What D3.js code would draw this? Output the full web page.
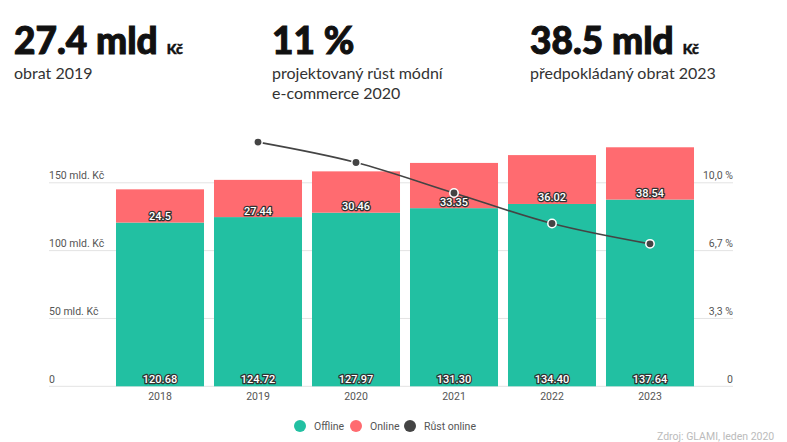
<!DOCTYPE html>
<html><head><meta charset="utf-8">
<script src="https://cdn.jsdelivr.net/npm/d3@7"></script>
<style>
body{margin:0;background:#fff;}
svg{display:block;font-family:Roboto,sans-serif;}
</style></head>
<body><svg id="c" width="787" height="442"></svg>
<script>
const years = ["2018","2019","2020","2021","2022","2023"];
const offline = [120.68,124.72,127.97,131.30,134.40,137.64];
const online = [24.5,27.44,30.46,33.35,36.02,38.54];
const offlineLabels = ["120.68","124.72","127.97","131.30","134.40","137.64"];
const onlineLabels = ["24.5","27.44","30.46","33.35","36.02","38.54"];
const growth = [null,12,11,9.5,8,7];
const leftTicks = [0,50,100,150];
const leftTickLabels = ["0","50 mld. Kč","100 mld. Kč","150 mld. Kč"];
const rightTicks = [0,10/3,20/3,10];
const rightTickLabels = ["0","3,3 %","6,7 %","10,0 %"];
const legendItems = ["Offline","Online","Růst online"];
const colors = {Offline:"#22c0a2", Online:"#ff6b70", "Růst online":"#444444"};

const svg = d3.select("#c");
const gridX0 = 49, gridX1 = 733;
const x = d3.scaleBand().domain(years).range([111,699]).paddingInner(0.102).paddingOuter(0.051);
const y = d3.scaleLinear().domain([0,150]).range([386.3,182.8]);
const y2 = d3.scaleLinear().domain([0,10]).range([386.3,182.8]);

// header
const hdr = [
  {x:14, big:"27.4 mld", small:"Kč", lines:["obrat 2019"]},
  {x:272, big:"11 %", small:"", lines:["projektovaný růst módní","e-commerce 2020"]},
  {x:530, big:"38.5 mld", small:"Kč", lines:["předpokládaný obrat 2023"]}
];
hdr.forEach(h=>{
  const t = svg.append("text").attr("x",h.x).attr("y",54)
    .style("font-family","Lato,sans-serif").style("font-weight","900").style("font-size","37px")
    .attr("fill","#111").attr("stroke","#111").attr("stroke-width",1);
  t.append("tspan").text(h.big);
  if(h.small) t.append("tspan").attr("dx",9).style("font-size","14px").attr("stroke-width",0.5).text(h.small);
  h.lines.forEach((l,i)=>svg.append("text").attr("x",h.x).attr("y",79+i*20)
    .style("font-family","Lato,sans-serif").style("font-size","16px").attr("fill","#333").text(l));
});

// grid
svg.append("g").selectAll("line").data(leftTicks).join("line")
  .attr("x1",gridX0).attr("x2",gridX1).attr("y1",d=>y(d)).attr("y2",d=>y(d))
  .attr("stroke","#e3e3e3").attr("stroke-width",1);
svg.append("g").selectAll("text").data(leftTicks).join("text")
  .attr("x",gridX0).attr("y",d=>y(d)-3.5).attr("fill","#555").style("font-size","10.5px")
  .text((d,i)=>leftTickLabels[i]);
svg.append("g").selectAll("text").data(rightTicks).join("text")
  .attr("x",gridX1).attr("y",d=>y2(d)-3.5).attr("text-anchor","end").attr("fill","#555").style("font-size","10.5px")
  .text((d,i)=>rightTickLabels[i]);

// bars
const g = svg.append("g");
years.forEach((yr,i)=>{
  g.append("rect").attr("x",x(yr)).attr("width",x.bandwidth())
    .attr("y",y(offline[i])).attr("height",y(0)-y(offline[i])).attr("fill",colors.Offline);
  g.append("rect").attr("x",x(yr)).attr("width",x.bandwidth())
    .attr("y",y(offline[i]+online[i])).attr("height",y(offline[i])-y(offline[i]+online[i])).attr("fill",colors.Online);
});

// x labels
svg.append("g").selectAll("text").data(years).join("text")
  .attr("x",d=>x(d)+x.bandwidth()/2).attr("y",399.5).attr("text-anchor","middle")
  .attr("fill","#555").style("font-size","10.5px").text(d=>d);

// line
const pts = years.map((yr,i)=>({x:x(yr)+x.bandwidth()/2, v:growth[i]})).filter(p=>p.v!==null);
const line = d3.line().x(p=>p.x).y(p=>y2(p.v)).curve(d3.curveMonotoneX);
svg.append("path").attr("d",line(pts)).attr("fill","none").attr("stroke","#444").attr("stroke-width",1.6);

// value labels
function outlined(sel){
  sel.attr("fill","#fff").attr("stroke","#333").attr("stroke-width",2.5).attr("paint-order","stroke")
    .attr("stroke-linejoin","round").style("font-size","11px").style("font-weight","500").attr("text-anchor","middle");
}
const lab = svg.append("g");
years.forEach((yr,i)=>{
  const cx = x(yr)+x.bandwidth()/2;
  outlined(lab.append("text").attr("x",cx).attr("y",y(0)-3).text(offlineLabels[i]));
  outlined(lab.append("text").attr("x",cx).attr("y",y(offline[i])-2.5).text(onlineLabels[i]));
});

svg.append("g").selectAll("circle").data(pts).join("circle")
  .attr("cx",p=>p.x).attr("cy",p=>y2(p.v)).attr("r",4.2)
  .attr("fill","#444").attr("stroke","#fff").attr("stroke-width",1.5);

// legend
const lg = svg.append("g");
const lx = [300,356,410];
legendItems.forEach((it,i)=>{
  lg.append("circle").attr("cx",lx[i]).attr("cy",426).attr("r",6).attr("fill",colors[it]);
  lg.append("text").attr("x",lx[i]+14).attr("y",429.5).attr("fill","#555").style("font-size","10.5px").text(it);
});

// source
svg.append("text").attr("x",657).attr("y",440).attr("fill","#bbb").style("font-size","10.5px").text("Zdroj: GLAMI, leden 2020");
</script></body></html>
